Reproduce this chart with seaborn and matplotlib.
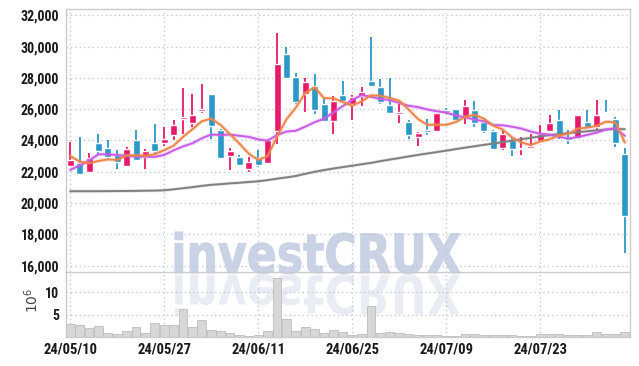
import numpy as np
import pandas as pd
import matplotlib
matplotlib.use("Agg")
import matplotlib.pyplot as plt
import matplotlib.patheffects as pe
import seaborn as sns
from matplotlib.textpath import TextPath
from matplotlib.patches import PathPatch
from matplotlib.font_manager import FontProperties
from matplotlib.transforms import Affine2D
from matplotlib.ticker import FuncFormatter

# trading days shown (yy/mm/dd)
dates = ["24/05/10", "24/05/13", "24/05/14", "24/05/16", "24/05/17",
         "24/05/20", "24/05/21", "24/05/22", "24/05/23", "24/05/24",
         "24/05/27", "24/05/28", "24/05/29", "24/05/30", "24/05/31",
         "24/06/03", "24/06/04", "24/06/05", "24/06/07", "24/06/10",
         "24/06/11", "24/06/12", "24/06/13", "24/06/14", "24/06/17",
         "24/06/18", "24/06/19", "24/06/20", "24/06/21", "24/06/24",
         "24/06/25", "24/06/26", "24/06/27", "24/06/28", "24/07/01",
         "24/07/02", "24/07/03", "24/07/04", "24/07/05", "24/07/08",
         "24/07/09", "24/07/10", "24/07/11", "24/07/12", "24/07/15",
         "24/07/16", "24/07/17", "24/07/18", "24/07/19", "24/07/22",
         "24/07/23", "24/07/24", "24/07/25", "24/07/26", "24/07/29",
         "24/07/30", "24/07/31", "24/08/01", "24/08/02", "24/08/05"]

open_ = [22400, 22550, 21960, 23810, 23520, 23050, 22400, 24020, 22930, 23830,
         23870, 24335, 25350, 25110, 25870, 26960, 24650, 23010, 22930, 22210,
         22860, 22590, 24600, 29500, 28080, 26970, 27450, 26335, 25240, 26900,
         26335, 26860, 27800, 27420, 26270, 25680, 25175, 24230, 24590, 24590,
         25960, 26020, 25540, 25975, 25175, 24590, 23495, 24020, 23430, 23500,
         23980, 24610, 25325, 24190, 24190, 25155, 24860, 25790, 25390, 23130]
high = [23900, 24200, 23180, 24440, 24020, 23390, 23600, 24650, 23430, 25070,
        24850, 25320, 27350, 26970, 27600, 27000, 24750, 23490, 23070, 22970,
        23390, 24120, 30850, 29980, 28290, 28010, 28270, 26750, 26860, 27800,
        26900, 27420, 30600, 27910, 28010, 26340, 25320, 24560, 25390, 25770,
        26080, 26020, 26590, 26540, 25175, 24650, 24650, 24230, 24230, 24440,
        24960, 25600, 25960, 24650, 25600, 25960, 26590, 26590, 25490, 23500]
low = [22300, 21880, 21950, 23115, 22760, 22170, 22335, 22700, 22170, 23110,
       23650, 24060, 24440, 24860, 25760, 24120, 22840, 22120, 22400, 22000,
       22335, 22550, 23800, 28000, 26335, 25850, 25700, 25240, 24440, 26480,
       25325, 26230, 27460, 26335, 25680, 25136, 24125, 23640, 24335, 24590,
       25700, 25218, 25070, 24860, 24480, 23420, 23390, 23010, 23070, 23495,
       23980, 24606, 24125, 23767, 24190, 24860, 24650, 25744, 23560, 16800]
close = [22750, 21880, 22860, 23350, 22970, 22600, 23430, 22760, 23300, 23300,
         24080, 24960, 25490, 25600, 25980, 24920, 22900, 23300, 22450, 22630,
         22440, 24020, 28900, 28020, 26440, 27740, 25960, 25240, 26500, 26540,
         26750, 27070, 27490, 26440, 25740, 25790, 24340, 24500, 24550, 25770,
         25790, 25280, 26230, 25110, 24610, 23450, 24440, 23430, 23530, 23640,
         24440, 25135, 24335, 24060, 25600, 24860, 25660, 25750, 23850, 19150]

# moving averages
ma5 = [23010, 22650, 22550, 22694, 22790, 22760, 23050, 23060, 23030, 23120,
       23380, 23670, 24230, 24720, 25230, 25390, 24990, 24400, 23800, 23150,
       22760, 23000, 24250, 25350, 26100, 27040, 27400, 26700, 26700, 26450,
       26220, 26500, 26880, 26860, 26720, 26540, 25980, 25370, 25000, 25010,
       25000, 25175, 25500, 25640, 25400, 24950, 24700, 24200, 23870, 23720,
       23930, 24080, 24330, 24430, 24760, 24820, 24930, 25200, 25160, 23870]
ma10 = [22126, 22400, 22715, 23115, 23115, 23070, 23030, 22965, 22965, 22950,
        23080, 23370, 23620, 23820, 24140, 24380, 24350, 24380, 24300, 24230,
        24070, 23990, 24350, 24570, 24620, 24880, 25170, 25390, 25790, 26200,
        26590, 26900, 26790, 26650, 26580, 26400, 26220, 26130, 25980, 25870,
        25780, 25600, 25480, 25340, 25230, 24990, 24970, 24880, 24760, 24570,
        24430, 24380, 24230, 24130, 24220, 24360, 24500, 24700, 24780, 24300]
ma60 = [20760, 20760, 20760, 20760, 20765, 20770, 20775, 20780, 20790, 20800,
        20820, 20880, 20950, 21020, 21100, 21170, 21210, 21260, 21300, 21350,
        21390, 21470, 21560, 21640, 21730, 21870, 22000, 22110, 22210, 22300,
        22390, 22480, 22570, 22680, 22780, 22880, 22980, 23080, 23170, 23260,
        23350, 23450, 23540, 23630, 23720, 23800, 23900, 23990, 24080, 24170,
        24260, 24340, 24410, 24470, 24530, 24590, 24650, 24700, 24740, 24720]

# volume in millions of shares
volume = [2.8, 2.6, 1.9, 2.5, 1.0, 0.75, 1.25, 2.3, 0.8, 3.2,
          2.6, 2.6, 6.25, 2.3, 3.8, 1.6, 1.4, 0.97, 0.53, 0.2,
          0.53, 1.25, 13.1, 4.05, 1.4, 2.3, 1.7, 0.8, 1.6, 1.15,
          0.5, 0.75, 7.0, 1.0, 1.1, 0.85, 0.75, 0.5, 0.5, 0.4,
          0.3, 0.2, 0.75, 0.6, 0.4, 0.35, 0.5, 0.5, 0.3, 0.3,
          0.6, 0.75, 0.75, 0.35, 0.5, 0.35, 1.1, 0.75, 0.7, 1.2]

df = pd.DataFrame({"date": dates, "open": open_, "high": high, "low": low,
                   "close": close, "ma5": ma5, "ma10": ma10, "ma60": ma60,
                   "volume": volume})
df["i"] = np.arange(len(df))

RED = "#e8196a"
BLUE = "#2c98c9"

sns.set_style("white")
plt.rcParams["font.family"] = ["Liberation Sans Narrow", "Roboto Condensed", "Roboto", "DejaVu Sans"]

W, H = 639, 366
fig = plt.figure(figsize=(W / 100, H / 100), dpi=100)
fig.patch.set_facecolor("white")
ax = fig.add_axes([66 / W, 1 - 272.3 / H, 564 / W, 263 / H])
axv = fig.add_axes([66 / W, 1 - 337 / H, 564 / W, 64.7 / H], sharex=ax)
for a in (ax, axv):
    a.set_facecolor("none")

# watermark with reflection (drawn behind the axes)
fp = FontProperties(family="DejaVu Sans", weight="bold")
tp = TextPath((0, 0), "investCRUX", size=54, prop=fp)
ext = tp.get_extents()
sx = 285 / ext.width
base_y = H - 273
fig.add_artist(PathPatch(tp, transform=Affine2D().translate(-ext.x0, 0).scale(sx, 1).translate(175, base_y),
                         facecolor="#cad2e5", edgecolor="#cad2e5", lw=0.8, zorder=-2))
fig.add_artist(PathPatch(tp, transform=Affine2D().translate(-ext.x0, 0).scale(sx, -1).translate(175, base_y - 2),
                         facecolor="#eaecf3", edgecolor="none", zorder=-2))

# candles
up = df["close"] >= df["open"]
cols = np.where(up, RED, BLUE)
body_lo = np.minimum(df["open"], df["close"])
body_h = np.maximum((df["close"] - df["open"]).abs(), 90)
ax.vlines(df["i"], df["low"], df["high"], colors=cols, lw=1.3, zorder=2)
ax.bar(df["i"], body_h, bottom=body_lo, width=0.74, color=cols, zorder=3)

# moving averages
for col, c, glow in [("ma60", "#808080", 2.4), ("ma10", "#c95be8", 3.0), ("ma5", "#ee8548", 3.0)]:
    sns.lineplot(data=df, x="i", y=col, color=c, lw=1.4, ax=ax, zorder=4,
                 path_effects=[pe.Stroke(linewidth=glow, foreground=c, alpha=0.2), pe.Normal()])

# volume
axv.bar(df["i"], df["volume"], width=0.94, color="#d7d7d7", edgecolor="#bdbdbd", lw=0.6, zorder=2)

# axes styling
ax.set_xlim(-0.45, 59.55)
ax.set_ylim(15580, 32380)
axv.set_ylim(0, 14.4)
ax.set_yticks(range(16000, 32001, 2000))
ax.yaxis.set_major_formatter(FuncFormatter(lambda v, p: f"{int(v):,}"))
axv.set_yticks([5, 10])
tick_idx = df["i"][::10]
axv.set_xticks(tick_idx)
axv.set_xticklabels(df["date"][::10])
ax.tick_params(labelbottom=False)

for a in (ax, axv):
    a.grid(True, ls=(0, (1, 2.5)), color="#bfc3d4", lw=0.9)
    a.set_axisbelow(True)
    a.set_xlabel("")
    a.set_ylabel("")
    a.tick_params(length=0, labelsize=10, labelcolor="#1a1a1a", pad=5)
    for lab in a.get_yticklabels() + a.get_xticklabels():
        lab.set_fontweight("bold")
    for s in a.spines.values():
        s.set_color("#cccccc")
        s.set_linewidth(1.0)
axv.spines["top"].set_visible(False)
axv.tick_params(axis="x", pad=4, labelsize=10.5)

fig.text(32 / W, 1 - 300 / H, r"$10^6$", rotation=90, ha="center", va="center",
         fontsize=10, color="#444444")

fig.savefig("out.png", dpi=100)
